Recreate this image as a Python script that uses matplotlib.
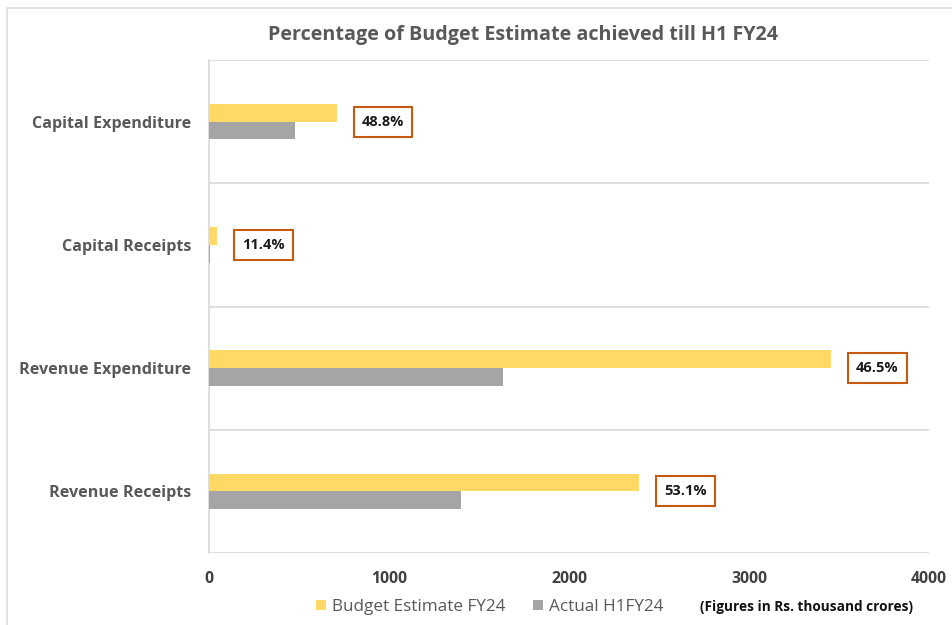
import matplotlib
matplotlib.use("Agg")
import matplotlib.pyplot as plt
from matplotlib.patches import Rectangle
import numpy as np

categories = ["Revenue Receipts", "Revenue Expenditure", "Capital Receipts", "Capital Expenditure"]
budget = [2389, 3456, 44, 711]
actual = [1400, 1633, 5, 478]
pct_labels = ["53.1%", "46.5%", "11.4%", "48.8%"]
xticks = [0, 1000, 2000, 3000, 4000]

plt.rcParams['font.family'] = ['Open Sans', 'DejaVu Sans']

W, H = 952, 625
fig = plt.figure(figsize=(W / 100, H / 100), dpi=100)
ax = fig.add_axes([209 / W, 1 - 553 / H, (929 - 209) / W, (553 - 60) / H])

# outer border
fig.patches.append(Rectangle((7 / W, -0.1), 1.2, 1 - 8 / H + 0.1, transform=fig.transFigure,
                             fill=False, edgecolor='#DDDDDD', linewidth=1.2))

y = np.arange(len(categories))
h = 0.145
yellow = '#FFD966'
gray = '#A5A5A5'
ax.barh(y + h / 2, budget, height=h, color=yellow, label='Budget Estimate FY24', zorder=3)
ax.barh(y - h / 2, actual, height=h, color=gray, label='Actual H1FY24', zorder=3)

for yi, b, t in zip(y, budget, pct_labels):
    ax.annotate(t, xy=(b, yi), xytext=(18, 0), textcoords='offset points',
                ha='left', va='center', fontsize=10.5, fontweight='bold', color='#1a1a1a',
                bbox=dict(boxstyle='square,pad=0.55', fc='white', ec='#C55A11', lw=1.5), zorder=5)

ax.set_xlim(0, 4000)
ax.set_ylim(-0.5, 3.5)
ax.set_xticks(xticks)
ax.set_xticklabels([str(v) for v in xticks])
ax.set_yticks(y)
ax.set_yticklabels(categories)
ax.tick_params(axis='both', length=0)
ax.tick_params(axis='x', pad=13, labelsize=11.3, labelcolor='#404040')
ax.tick_params(axis='y', pad=13, labelsize=11.6, labelcolor='#595959')
for lab in ax.get_xticklabels() + ax.get_yticklabels():
    lab.set_fontweight('bold')

for gy in [-0.5, 0.5, 1.5, 2.5, 3.5]:
    ax.axhline(gy, color='#D9D9D9', lw=1.2, zorder=1)
for s in ['top', 'right', 'bottom']:
    ax.spines[s].set_visible(False)
ax.spines['left'].set_color('#D9D9D9')
ax.spines['left'].set_linewidth(1.2)

fig.text(523 / W, 1 - 35 / H, "Percentage of Budget Estimate achieved till H1 FY24",
         ha='center', va='center', fontsize=14.2, fontweight='bold', color='#595959')

# legend
leg = fig.legend(handles=[ax.containers[0], ax.containers[1]],
                 labels=['Budget Estimate FY24', 'Actual H1FY24'],
                 loc='center', bbox_to_anchor=(490 / W, 1 - 607 / H), ncol=2, frameon=False,
                 fontsize=12.3, handlelength=0.6, handleheight=0.6, handletextpad=0.35,
                 columnspacing=1.6, labelcolor='#595959')
fig.text(806 / W, 1 - 607 / H, "(Figures in Rs. thousand crores)", ha='center', va='center',
         fontsize=9.8, fontweight='bold', color='#111111')

fig.savefig('out.png', dpi=100, facecolor='white')
